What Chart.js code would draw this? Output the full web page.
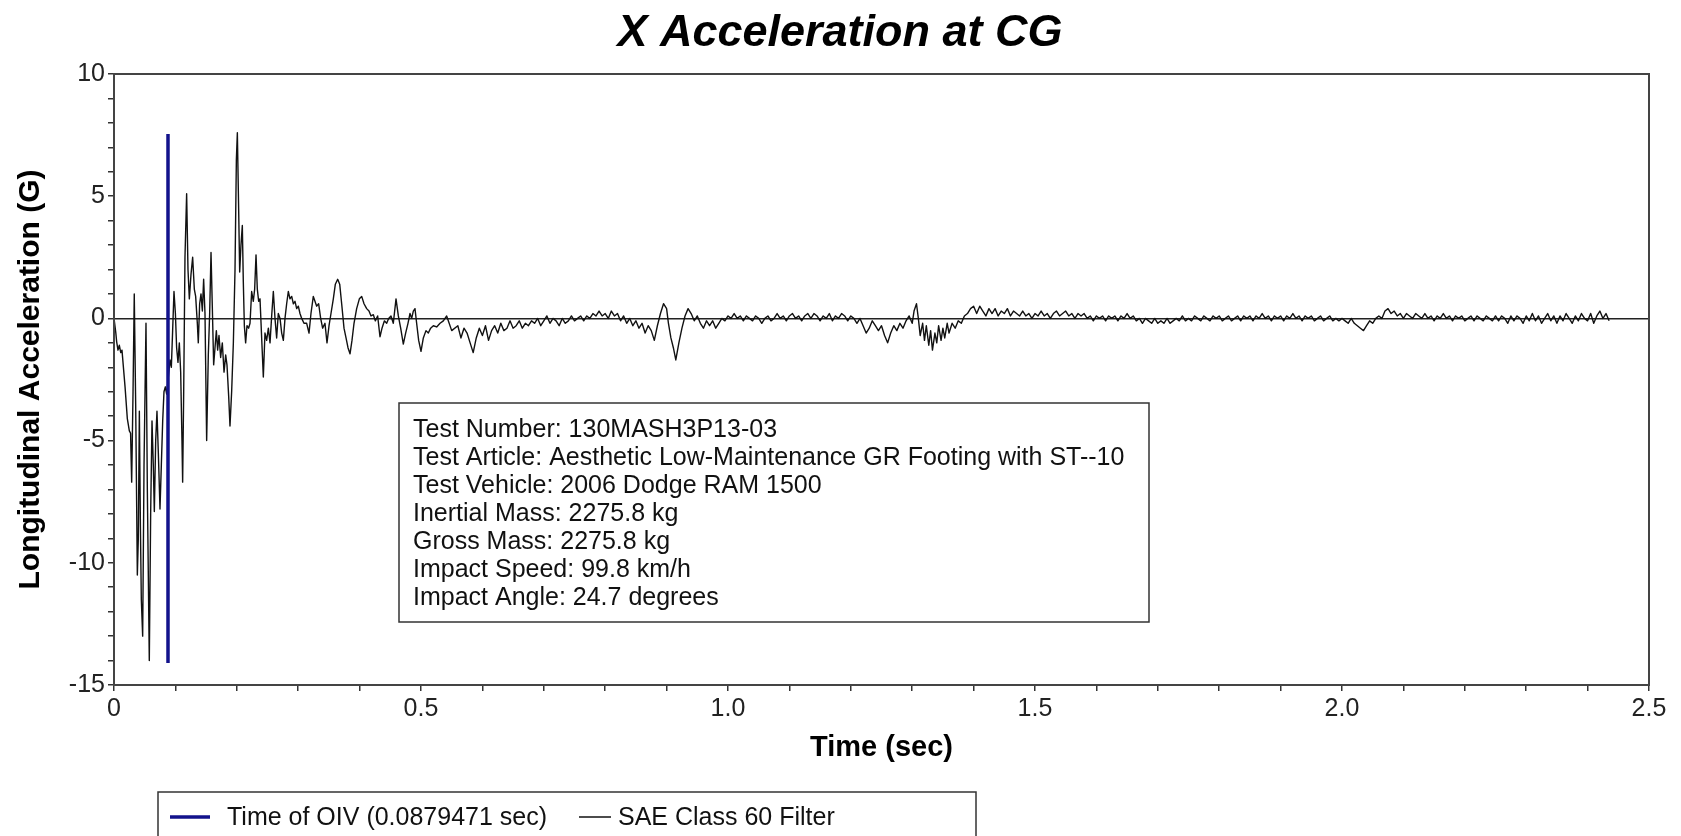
<!DOCTYPE html>
<html>
<head>
<meta charset="utf-8">
<script src="https://cdn.jsdelivr.net/npm/chart.js@4.4.1/dist/chart.umd.min.js"></script>
<style>
  html, body { margin: 0; padding: 0; background: #fff; }
</style>
</head>
<body>
<canvas id="accelChart" width="1681" height="836"></canvas>
<script>
// 図のテキスト
const chartTitle = 'X Acceleration at CG';
const xTitle = 'Time (sec)';
const yTitle = 'Longitudinal Acceleration (G)';
const xTickLabels = ['0', '0.5', '1.0', '1.5', '2.0', '2.5'];
const yTickLabels = ['-15', '-10', '-5', '0', '5', '10'];
const testInfo = [
    'Test Number: 130MASH3P13-03',
    'Test Article: Aesthetic Low-Maintenance GR Footing with ST--10',
    'Test Vehicle: 2006 Dodge RAM 1500',
    'Inertial Mass: 2275.8 kg',
    'Gross Mass: 2275.8 kg',
    'Impact Speed: 99.8 km/h',
    'Impact Angle: 24.7 degrees'
];

// OIV の時刻 (縦線)
const oivLabel = 'Time of OIV (0.0879471 sec)';
const oivTime = 0.0879471;
const oivRange = [-14.1, 7.55];

// SAE Class 60 フィルタ後の加速度 [時間(s), G]
const filterLabel = 'SAE Class 60 Filter';
const traceImpact = [
    [0, 0], [0.003, -0.6], [0.0043, -0.95], [0.0065, -1.3], [0.0087, -1.1], [0.011, -1.4], [0.013, -1.3],
    [0.018, -2.8], [0.0217, -4.1], [0.025, -4.6], [0.027, -4.7], [0.0288, -6.7], [0.031, -3.0], [0.033, 1.0],
    [0.0353, -3.5], [0.038, -10.5], [0.0396, -9.0], [0.0413, -3.8], [0.043, -8.5], [0.0445, -11.5], [0.0467, -13.0],
    [0.0489, -6.0], [0.0521, -0.2], [0.0543, -7.0], [0.0575, -14.0], [0.0597, -8.0], [0.0619, -4.2], [0.064, -6.0],
    [0.0657, -7.9], [0.0679, -5.0], [0.07, -3.8], [0.0722, -5.5], [0.0749, -7.8], [0.0771, -6.0], [0.0793, -4.2],
    [0.0814, -3.0], [0.0836, -2.8], [0.0858, -3.1], [0.0885, -2.4], [0.0912, -1.7], [0.0934, -2.0], [0.0955, -0.5],
    [0.0977, 1.1], [0.1, 0.2], [0.102, -1.2], [0.1042, -1.8], [0.1064, -1.0], [0.1086, -2.2], [0.1107, -5.0],
    [0.1118, -6.7], [0.1135, -3.0], [0.1156, 2.5], [0.1183, 5.1], [0.1205, 2.0], [0.1227, 0.8], [0.1254, 1.8],
    [0.1281, 2.5], [0.1308, 1.2], [0.133, 0.9], [0.1357, -0.2], [0.1373, -1.0], [0.1395, 0.6], [0.1417, 1.0],
    [0.1439, 0.3], [0.146, 1.6], [0.1482, 0.2], [0.1509, -5.0], [0.1536, -1.5], [0.1558, 0.2], [0.158, 2.7],
    [0.1601, 0.5], [0.1623, -1.9], [0.1645, -1.2], [0.1667, -0.5], [0.1688, -1.3], [0.171, -0.7], [0.1737, -1.6],
    [0.1764, -1.0], [0.1792, -2.2], [0.1819, -1.5], [0.184, -1.9], [0.1868, -3.2], [0.1889, -4.4], [0.1916, -3.0],
    [0.1944, -1.0], [0.1971, 2.0], [0.1993, 6.5], [0.2009, 7.6], [0.203, 4.5], [0.2047, 1.9], [0.2068, 3.0],
    [0.209, 3.8], [0.2106, 1.5], [0.2123, -0.3], [0.2144, -1.0], [0.2166, -0.3], [0.2193, -0.4], [0.2215, -0.2],
    [0.2242, 1.1], [0.2269, 0.7], [0.2291, 1.2], [0.2313, 2.6], [0.2334, 1.2], [0.2356, 0.7], [0.2378, 0.8],
    [0.2405, -0.8], [0.2432, -2.4], [0.2459, -0.6], [0.2486, -0.9], [0.2514, -0.4], [0.2541, -1.0], [0.2568, 0.1],
    [0.2595, 1.1], [0.2622, 0.0], [0.2649, -0.8], [0.2676, 0.2], [0.2704, 0.0], [0.2731, -0.6], [0.2758, -0.9],
    [0.2785, 0.0], [0.2812, 0.6], [0.2839, 1.1], [0.2866, 0.8], [0.2894, 0.9], [0.2921, 0.6], [0.2948, 0.7],
    [0.2975, 0.4], [0.3002, 0.5], [0.3029, 0.2], [0.3057, 0.0], [0.3094, -0.2], [0.3138, -0.2], [0.3176, -0.6],
    [0.3208, 0.2], [0.3246, 0.9], [0.3273, 0.7], [0.3301, 0.5], [0.3333, 0.6], [0.3366, 0.0], [0.3398, -0.4],
    [0.3436, -0.2], [0.3469, -1.0], [0.3502, -0.3], [0.3534, 0.2], [0.3572, 0.8], [0.3605, 1.4], [0.3643, 1.6],
    [0.3676, 1.4], [0.3708, 0.6], [0.3746, -0.4], [0.3779, -0.8], [0.3811, -1.2], [0.3844, -1.45], [0.3876, -0.9],
    [0.3909, -0.2], [0.3952, 0.4], [0.3996, 0.8], [0.4034, 0.9], [0.4072, 0.6], [0.4115, 0.4], [0.4153, 0.3],
    [0.4186, 0.1], [0.4224, 0.15], [0.4256, -0.1], [0.4294, 0.1], [0.4332, -0.75], [0.4365, -0.4], [0.4403, -0.1],
    [0.4441, -0.2], [0.4473, 0.0], [0.4511, 0.1], [0.4549, -0.2], [0.4593, 0.8], [0.4631, 0.1], [0.4669, -0.4],
    [0.4712, -1.05], [0.475, -0.6], [0.4788, -0.2], [0.4821, 0.2], [0.4848, 0.0], [0.4875, 0.3], [0.4902, 0.4],
    [0.4929, -0.2], [0.4962, -0.9], [0.5, -1.35], [0.5038, -0.8], [0.5081, -0.5], [0.5119, -0.6], [0.5157, -0.4],
    [0.5201, -0.3], [0.5255, -0.35], [0.531, -0.2], [0.5364, -0.1], [0.5418, 0.1]
];
const traceMid = [
    [0.55, -0.5], [0.56, -0.3], [0.565, -0.8], [0.57, -0.4], [0.575, -0.6], [0.58, -1.0], [0.585, -1.4],
    [0.59, -0.8], [0.595, -0.4], [0.6, -0.7], [0.605, -0.3], [0.61, -0.9], [0.615, -0.5], [0.62, -0.3],
    [0.625, -0.6], [0.63, -0.2], [0.635, -0.5], [0.64, -0.4], [0.645, -0.1], [0.65, -0.4], [0.655, -0.3],
    [0.66, -0.1], [0.665, -0.4], [0.67, -0.2], [0.675, -0.3], [0.68, -0.1], [0.685, -0.2], [0.69, 0.0],
    [0.695, -0.3], [0.7, -0.1], [0.705, 0.1], [0.71, -0.2], [0.715, 0.0], [0.72, -0.1], [0.725, -0.3],
    [0.73, 0.0], [0.735, -0.2], [0.74, -0.1], [0.745, 0.1], [0.75, -0.1], [0.755, 0.0], [0.76, 0.1],
    [0.765, -0.1], [0.77, 0.1], [0.775, 0.0], [0.78, 0.2], [0.785, 0.1], [0.79, 0.3], [0.795, 0.1],
    [0.8, 0.2], [0.805, 0.0], [0.81, 0.3], [0.815, 0.1], [0.82, 0.2], [0.825, -0.1], [0.83, 0.1],
    [0.835, -0.2], [0.84, 0.0], [0.845, -0.3], [0.85, -0.1], [0.855, -0.4], [0.86, -0.2], [0.865, -0.6],
    [0.87, -0.3], [0.875, -0.5], [0.88, -0.9], [0.885, -0.3], [0.89, 0.2], [0.895, 0.6], [0.9, 0.4],
    [0.903, -0.2], [0.907, -0.8], [0.911, -1.2], [0.915, -1.7], [0.92, -1.0], [0.925, -0.4], [0.93, 0.1],
    [0.935, 0.4], [0.94, 0.2], [0.945, -0.1], [0.95, 0.1], [0.955, -0.2], [0.96, -0.4], [0.965, -0.1],
    [0.97, -0.3], [0.975, -0.1], [0.98, -0.4], [0.985, -0.2], [0.99, 0.0], [0.995, -0.1], [1.0, 0.1],
    [1.005, 0.0], [1.01, 0.2], [1.015, 0.0], [1.02, 0.1], [1.025, -0.1], [1.03, 0.1], [1.035, 0.0],
    [1.04, -0.1], [1.045, 0.1], [1.05, 0.0], [1.055, -0.2], [1.06, 0.0], [1.065, 0.1], [1.07, -0.1],
    [1.075, 0.0], [1.08, 0.2], [1.085, 0.0], [1.09, 0.1], [1.095, -0.1], [1.1, 0.1], [1.105, 0.2],
    [1.11, 0.0], [1.115, 0.1], [1.12, -0.1], [1.125, 0.1], [1.13, 0.2], [1.135, 0.0], [1.14, 0.2],
    [1.145, 0.1], [1.15, -0.1], [1.155, 0.1], [1.16, 0.0], [1.165, 0.2], [1.17, -0.1], [1.175, 0.1],
    [1.18, 0.0], [1.185, 0.2], [1.19, 0.1], [1.195, -0.1], [1.2, 0.1], [1.205, 0.0], [1.21, -0.2],
    [1.215, 0.0], [1.22, -0.3], [1.225, -0.6], [1.23, -0.4], [1.235, -0.1], [1.24, -0.3], [1.245, -0.5],
    [1.25, -0.3], [1.255, -0.7], [1.26, -1.0], [1.265, -0.6], [1.27, -0.3], [1.275, -0.5], [1.28, -0.2],
    [1.285, -0.4], [1.29, -0.1], [1.295, 0.1], [1.3, -0.2], [1.303, 0.3], [1.307, 0.6], [1.31, 0.0],
    [1.313, -0.7], [1.317, -0.2], [1.32, -0.9], [1.323, -0.3], [1.327, -1.1], [1.33, -0.5], [1.333, -1.3],
    [1.337, -0.6], [1.34, -1.0], [1.343, -0.3], [1.347, -0.9], [1.35, -0.4], [1.353, -0.8], [1.357, -0.2],
    [1.36, -0.6], [1.365, -0.2], [1.37, -0.4], [1.375, -0.1], [1.38, -0.2], [1.385, 0.1], [1.39, 0.2],
    [1.395, 0.4]
];
const traceTail = [
    [1.4, 0.5], [1.405, 0.2], [1.41, 0.5], [1.415, 0.3], [1.42, 0.1], [1.425, 0.4], [1.43, 0.2],
    [1.435, 0.4], [1.44, 0.1], [1.445, 0.3], [1.45, 0.2], [1.455, 0.4], [1.46, 0.1], [1.465, 0.3],
    [1.47, 0.2], [1.475, 0.1], [1.48, 0.3], [1.485, 0.1], [1.49, 0.2], [1.495, 0.0], [1.5, 0.2],
    [1.505, 0.1], [1.51, 0.3], [1.515, 0.1], [1.52, 0.2], [1.525, 0.0], [1.53, 0.2], [1.535, 0.3],
    [1.54, 0.1], [1.545, 0.2], [1.55, 0.3], [1.555, 0.1], [1.56, 0.2], [1.565, 0.0], [1.57, 0.2],
    [1.575, 0.1], [1.58, 0.2], [1.585, 0.0], [1.59, 0.1], [1.595, -0.1], [1.6, 0.1], [1.605, 0.0],
    [1.61, 0.1], [1.615, -0.1], [1.62, 0.1], [1.625, 0.0], [1.63, 0.1], [1.635, -0.1], [1.64, 0.1],
    [1.645, 0.0], [1.65, 0.2], [1.655, 0.0], [1.66, 0.1], [1.665, -0.1], [1.67, 0.0], [1.675, -0.2],
    [1.68, 0.0], [1.685, -0.1], [1.69, -0.2], [1.695, 0.0], [1.7, -0.2], [1.705, -0.1], [1.71, -0.2],
    [1.715, 0.0], [1.72, -0.2], [1.725, -0.1], [1.73, 0.0], [1.735, -0.1], [1.74, 0.1], [1.745, -0.1],
    [1.75, 0.0], [1.755, -0.1], [1.76, 0.1], [1.765, 0.0], [1.77, -0.1], [1.775, 0.1], [1.78, 0.0],
    [1.785, -0.1], [1.79, 0.1], [1.795, 0.0], [1.8, 0.1], [1.805, -0.1], [1.81, 0.0], [1.815, 0.1],
    [1.82, -0.1], [1.825, 0.0], [1.83, 0.1], [1.835, -0.1], [1.84, 0.1], [1.845, 0.0], [1.85, 0.1],
    [1.855, -0.1], [1.86, 0.1], [1.865, 0.0], [1.87, 0.2], [1.875, 0.0], [1.88, 0.1], [1.885, -0.1],
    [1.89, 0.1], [1.895, 0.0], [1.9, 0.1], [1.905, -0.1], [1.91, 0.1], [1.915, 0.0], [1.92, 0.2],
    [1.925, 0.0], [1.93, 0.1], [1.935, -0.1], [1.94, 0.1], [1.945, 0.0], [1.95, 0.1], [1.955, -0.1],
    [1.96, 0.0], [1.965, 0.1], [1.97, -0.1], [1.975, 0.0], [1.98, 0.1], [1.985, -0.1], [1.99, 0.0],
    [1.995, -0.1], [2.0, 0.0], [2.005, -0.1], [2.01, -0.2], [2.015, 0.0], [2.02, -0.2], [2.025, -0.3],
    [2.03, -0.4], [2.035, -0.5], [2.04, -0.3], [2.045, -0.1], [2.05, -0.2], [2.055, 0.0], [2.06, 0.1],
    [2.065, 0.0], [2.07, 0.3], [2.075, 0.4], [2.08, 0.2], [2.085, 0.3], [2.09, 0.1], [2.095, 0.2],
    [2.1, 0.0], [2.105, 0.2], [2.11, 0.1], [2.115, 0.0], [2.12, 0.2], [2.125, 0.1], [2.13, 0.0],
    [2.135, 0.2], [2.14, 0.0], [2.145, 0.1], [2.15, -0.1], [2.155, 0.1], [2.16, 0.0], [2.165, 0.2],
    [2.17, 0.0], [2.175, 0.1], [2.18, -0.1], [2.185, 0.1], [2.19, 0.0], [2.195, 0.1], [2.2, -0.1],
    [2.205, 0.0], [2.21, 0.1], [2.215, -0.1], [2.22, 0.1], [2.225, 0.0], [2.23, -0.1], [2.235, 0.1],
    [2.24, 0.0], [2.245, -0.1], [2.25, 0.1], [2.255, -0.1], [2.26, 0.1], [2.265, 0.0], [2.27, -0.2],
    [2.275, 0.1], [2.28, -0.1], [2.285, 0.1], [2.29, 0.0], [2.295, -0.2], [2.3, 0.1], [2.305, -0.1],
    [2.31, 0.2], [2.315, -0.1], [2.32, 0.1], [2.325, -0.2], [2.33, 0.0], [2.335, 0.2], [2.34, -0.1],
    [2.345, 0.1], [2.35, -0.2], [2.355, 0.1], [2.36, -0.1], [2.365, 0.2], [2.37, 0.0], [2.375, -0.2],
    [2.38, 0.1], [2.385, -0.1], [2.39, 0.2], [2.395, 0.0], [2.4, -0.1], [2.405, 0.2], [2.41, -0.2],
    [2.415, 0.1], [2.42, 0.3], [2.425, 0.0], [2.43, 0.2], [2.435, -0.1]
];

const fontFamily = '"Liberation Sans", Arial, Helvetica, sans-serif';
const oivColor = '#12128c';
const traceColor = '#111';

// タイトル・注記・凡例の描画
const decorPlugin = {
    id: 'decor',
    afterDraw(chart) {
        const ctx = chart.ctx;
        const area = chart.chartArea;
        ctx.save();

        // 枠線
        ctx.strokeStyle = '#444';
        ctx.lineWidth = 2;
        ctx.strokeRect(area.left, area.top, area.right - area.left, area.bottom - area.top);

        // タイトル
        ctx.fillStyle = '#000';
        ctx.font = 'italic bold 45px ' + fontFamily;
        ctx.textAlign = 'center';
        ctx.textBaseline = 'middle';
        ctx.fillText(chartTitle, 840, 34);

        // 試験情報ボックス
        ctx.fillStyle = '#fff';
        ctx.fillRect(399, 403, 750, 219);
        ctx.strokeStyle = '#333';
        ctx.lineWidth = 1.5;
        ctx.strokeRect(399, 403, 750, 219);
        ctx.fillStyle = '#111';
        ctx.font = '25px ' + fontFamily;
        ctx.textAlign = 'left';
        testInfo.forEach((line, i) => ctx.fillText(line, 413, 430 + i * 28));

        // 凡例
        ctx.strokeStyle = '#333';
        ctx.lineWidth = 1.5;
        ctx.strokeRect(158, 792, 818, 60);
        const items = chart.data.datasets;
        const legendX = [170, 579];
        items.forEach((ds, i) => {
            ctx.strokeStyle = ds.borderColor;
            ctx.lineWidth = i === 0 ? 3.5 : 1.5;
            ctx.beginPath();
            ctx.moveTo(legendX[i], 817);
            ctx.lineTo(legendX[i] + (i === 0 ? 40 : 32), 817);
            ctx.stroke();
            ctx.fillStyle = '#111';
            ctx.font = '25px ' + fontFamily;
            ctx.fillText(ds.label, legendX[i] + (i === 0 ? 57 : 39), 818);
        });
        ctx.restore();
    }
};

const toPoints = rows => rows.map(r => ({ x: r[0], y: r[1] }));

new Chart(document.getElementById('accelChart'), {
    type: 'line',
    data: {
        datasets: [
            {
                label: oivLabel,
                data: [{ x: oivTime, y: oivRange[0] }, { x: oivTime, y: oivRange[1] }],
                borderColor: oivColor,
                borderWidth: 3.5,
                pointRadius: 0
            },
            {
                label: filterLabel,
                data: toPoints([...traceImpact, ...traceMid, ...traceTail]),
                borderColor: traceColor,
                borderWidth: 1.4,
                borderJoinStyle: 'round',
                pointRadius: 0,
                tension: 0
            }
        ]
    },
    options: {
        responsive: false,
        animation: false,
        events: [],
        layout: { padding: { top: 74, right: 32, left: 0, bottom: 0 } },
        plugins: {
            legend: { display: false },
            tooltip: { enabled: false },
            title: { display: false }
        },
        scales: {
            x: {
                type: 'linear',
                min: 0,
                max: 2.5,
                ticks: {
                    stepSize: 0.1,
                    autoSkip: false,
                    maxRotation: 0,
                    padding: 3,
                    color: '#222',
                    font: { family: fontFamily, size: 25 },
                    callback: v => {
                        const i = Math.round(v / 0.5);
                        return Math.abs(v - i * 0.5) < 1e-6 ? xTickLabels[i] : '';
                    }
                },
                grid: { drawOnChartArea: false, tickLength: 6, tickColor: '#333', lineWidth: 1.5 },
                border: { display: true, color: '#444', width: 2 },
                title: {
                    display: true,
                    text: xTitle,
                    color: '#000',
                    font: { family: fontFamily, size: 29, weight: 'bold' },
                    padding: { top: 0, bottom: 71 }
                },
                afterFit: s => { s.height = 151; s.paddingLeft = 0; s.paddingRight = 0; }
            },
            y: {
                min: -15,
                max: 10,
                ticks: {
                    stepSize: 1,
                    autoSkip: false,
                    padding: 3,
                    color: '#222',
                    font: { family: fontFamily, size: 25 },
                    callback: v => {
                        const i = Math.round((v + 15) / 5);
                        return Math.abs(v + 15 - i * 5) < 1e-6 ? yTickLabels[i] : '';
                    }
                },
                grid: {
                    drawOnChartArea: true,
                    color: c => (c.tick && c.tick.value === 0 ? '#222' : 'rgba(0,0,0,0)'),
                    lineWidth: 1.5,
                    tickLength: 6,
                    tickColor: '#333'
                },
                border: { display: true, color: '#444', width: 2 },
                title: {
                    display: true,
                    text: yTitle,
                    color: '#000',
                    font: { family: fontFamily, size: 30, weight: 'bold' },
                    padding: { top: 13, bottom: 0 }
                },
                afterFit: s => { s.width = 114; s.paddingTop = 0; s.paddingBottom = 0; }
            }
        }
    },
    plugins: [decorPlugin]
});
</script>
</body>
</html>
